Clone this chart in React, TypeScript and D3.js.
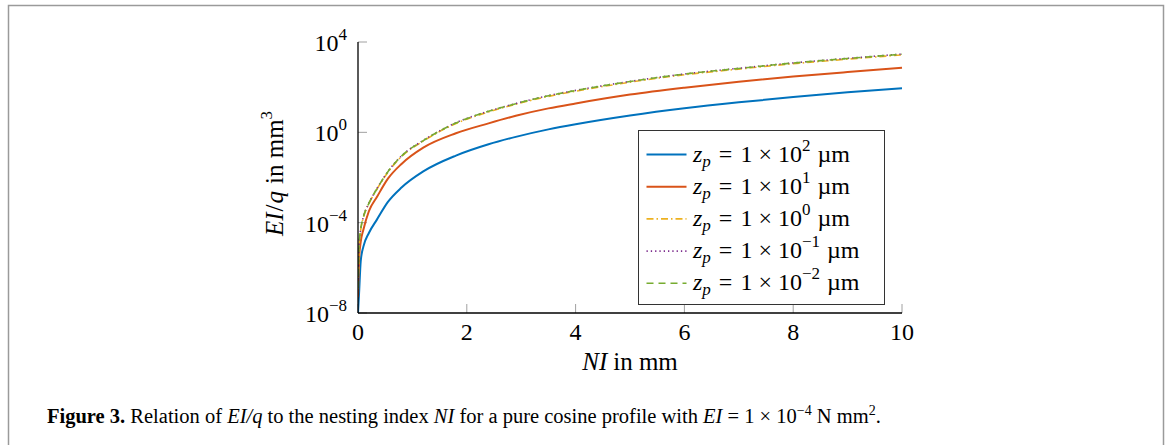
import React from "react";
import * as d3 from "d3";

// Nesting index NI in mm
const NI = [0, 0.02, 0.05, 0.1, 0.2, 0.35, 0.55, 0.8, 1.2, 1.8, 2.4, 2.9, 3.5, 4, 5, 6, 7, 8, 9, 10];

// EI/q in mm^3 for each z_p
const zp1e2 = [1e-8, 7.9e-8, 2.0e-6, 8.9e-6, 3.5e-5, 1.4e-4, 8.3e-4, 3.6e-3, 1.86e-2, 9.3e-2, 0.295, 0.63, 1.35, 2.29, 5.6, 11.7, 21.4, 36.3, 58.9, 89];
const zp1e1 = [5e-8, 2.5e-6, 1.4e-5, 5e-5, 3.2e-4, 1.4e-3, 8.9e-3, 0.04, 0.21, 0.91, 2.5, 5.4, 11.5, 19, 47, 95, 174, 295, 468, 724];
const zp1e0 = [1.2e-7, 9.5e-6, 4.8e-5, 1.75e-4, 6.9e-4, 3.1e-3, 0.0172, 0.085, 0.41, 2.45, 8.0, 17.5, 39, 66, 166, 355, 630, 1095, 1740, 2690];
const zp1em1 = [1.3e-7, 1.05e-5, 5.2e-5, 1.85e-4, 7.3e-4, 3.3e-3, 0.0185, 0.091, 0.44, 2.65, 8.6, 18.9, 42.3, 72, 180, 385, 686, 1190, 1890, 2930];
const zp1em2 = [1.26e-7, 1e-5, 5e-5, 1.8e-4, 7.1e-4, 3.2e-3, 0.018, 0.089, 0.43, 2.6, 8.5, 18.6, 41.7, 71, 178, 380, 676, 1175, 1862, 2884];

const seriesExp = ["2", "1", "0", "\u22121", "\u22122"];
const xTicks = [0, 2, 4, 6, 8, 10];
const yTickExps = [-8, -4, 0, 4];

const series = [
  { data: zp1e2, color: "#0072BD", dash: "", width: 2 },
  { data: zp1e1, color: "#D95319", dash: "", width: 2 },
  { data: zp1e0, color: "#EDB120", dash: "7 3 1.5 3", width: 1.6 },
  { data: zp1em1, color: "#7E2F8E", dash: "1.3 3", width: 1.6 },
  { data: zp1em2, color: "#77AC30", dash: "7 5", width: 1.6 },
];

const FONT = "'Liberation Serif', 'Times New Roman', serif";

export default function App() {
  const left = 358, right = 902, top = 42, bottom = 313;
  const x = d3.scaleLinear().domain([0, 10]).range([left, right]);
  const y = d3.scaleLog().domain([1e-8, 1e4]).range([bottom, top]);

  const line = (vals: number[]) =>
    d3
      .line<number>()
      .x((_, i) => x(NI[i]))
      .y((v) => y(v))
      .curve(d3.curveMonotoneX)(vals) || "";

  const legX = 638.5, legY = 130.5, legW = 246, legH = 174;
  const rowH = 32.2;

  return (
    <svg
      width={1171}
      height={445}
      style={{ position: "absolute", left: 0, top: 0, background: "#fff" }}
      fontFamily={FONT}
    >
      <rect x={8.5} y={5.5} width={1155} height={520} fill="none" stroke="#9a9a9a" strokeWidth={1.5} />
      <defs>
        <clipPath id="plotclip">
          <rect x={left} y={top - 2} width={right - left + 2} height={bottom - top + 2} />
        </clipPath>
      </defs>

      {/* ticks */}
      {xTicks.map((t) => (
        <line key={"xt" + t} x1={x(t)} x2={x(t)} y1={bottom} y2={bottom - 9} stroke="#a0a0a0" strokeWidth={1} />
      ))}
      {yTickExps.map((e) => (
        <line key={"yt" + e} x1={left} x2={left + 9} y1={y(Math.pow(10, e))} y2={y(Math.pow(10, e))} stroke="#a0a0a0" strokeWidth={1} />
      ))}

      {/* curves */}
      <g clipPath="url(#plotclip)">
        {series.map((s, i) => (
          <path key={i} d={line(s.data)} fill="none" stroke={s.color} strokeWidth={s.width} strokeDasharray={s.dash || undefined} />
        ))}
      </g>

      {/* axes */}
      <line x1={left} x2={left} y1={top} y2={bottom} stroke="#000" strokeWidth={1.3} />
      <line x1={left} x2={right} y1={bottom} y2={bottom} stroke="#000" strokeWidth={1.3} />

      {/* x tick labels */}
      {xTicks.map((t) => (
        <text key={"xl" + t} x={x(t)} y={340} fontSize={24} textAnchor="middle">
          {t}
        </text>
      ))}
      {/* y tick labels */}
      {yTickExps.map((e) => (
        <text key={"yl" + e} x={347} y={y(Math.pow(10, e)) + 9} fontSize={24} textAnchor="end">
          10
          <tspan fontSize={17} dy={-11}>{e < 0 ? "\u2212" + -e : String(e)}</tspan>
        </text>
      ))}

      {/* axis labels */}
      <text x={630} y={370} fontSize={25} textAnchor="middle">
        <tspan fontStyle="italic">NI</tspan>
        <tspan dx={6}>in mm</tspan>
      </text>
      <text transform={`translate(283, ${(top + bottom) / 2 - 4}) rotate(-90)`} fontSize={25} textAnchor="middle">
        <tspan fontStyle="italic">EI</tspan>
        <tspan dx={1}>/</tspan>
        <tspan fontStyle="italic" dx={1}>q</tspan>
        <tspan dx={7}>in mm</tspan>
        <tspan fontSize={17} dy={-11}>3</tspan>
      </text>

      {/* legend */}
      <rect x={legX} y={legY} width={legW} height={legH} fill="#fff" stroke="#333" strokeWidth={1} />
      {series.map((s, i) => {
        const cy = legY + 24 + i * rowH;
        return (
          <g key={"lg" + i}>
            <line x1={646.5} x2={686.5} y1={cy} y2={cy} stroke={s.color} strokeWidth={s.width} strokeDasharray={s.dash || undefined} />
            <text x={693} y={cy + 7} fontSize={24}>
              <tspan fontStyle="italic">z</tspan>
              <tspan fontStyle="italic" fontSize={17} dy={5}>p</tspan>
              <tspan dy={-5} dx={8}>=</tspan>
              <tspan dx={8}>1</tspan>
              <tspan dx={6}>×</tspan>
              <tspan dx={6}>10</tspan>
              <tspan fontSize={17} dy={-11}>{seriesExp[i]}</tspan>
              <tspan dy={11} dx={7}>µm</tspan>
            </text>
          </g>
        );
      })}

      {/* caption */}
      <text x={47} y={423} fontSize={20.5}>
        <tspan fontWeight="bold">Figure 3.</tspan>
        <tspan> Relation of </tspan>
        <tspan fontStyle="italic">EI/q</tspan>
        <tspan> to the nesting index </tspan>
        <tspan fontStyle="italic">NI</tspan>
        <tspan> for a pure cosine profile with </tspan>
        <tspan fontStyle="italic">EI</tspan>
        <tspan> = 1 × 10</tspan>
        <tspan fontSize={14} dy={-8}>−4</tspan>
        <tspan dy={8}> N mm</tspan>
        <tspan fontSize={14} dy={-8}>2</tspan>
        <tspan dy={8}>.</tspan>
      </text>
    </svg>
  );
}
